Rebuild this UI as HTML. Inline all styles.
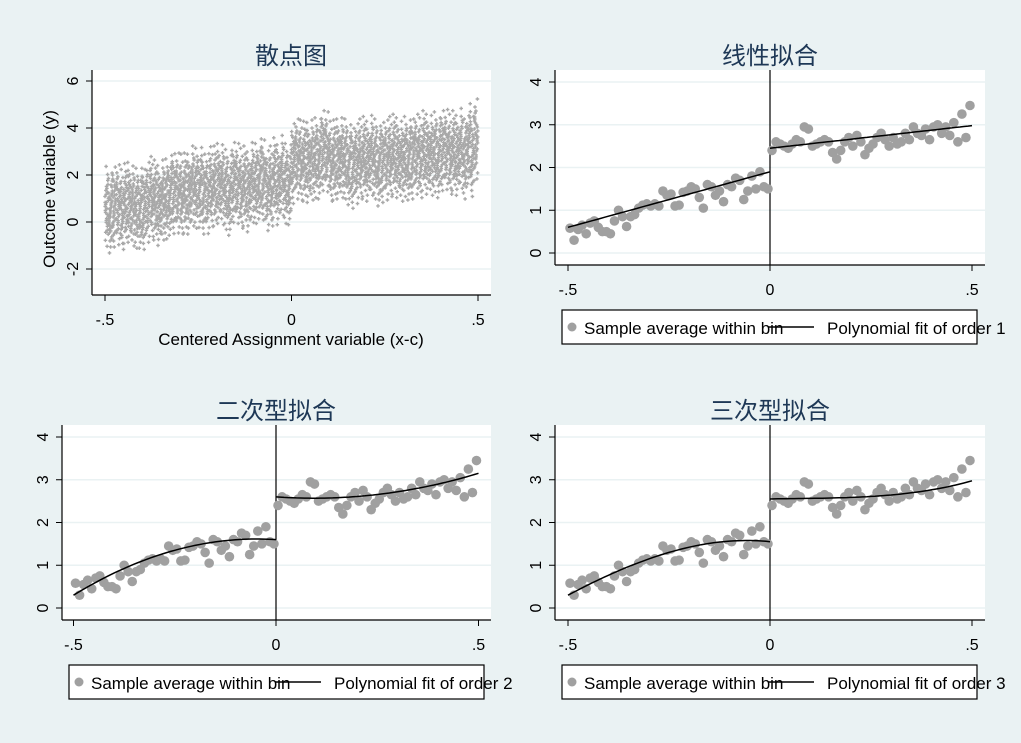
<!DOCTYPE html>
<html><head><meta charset="utf-8">
<style>
html,body{margin:0;padding:0;background:#eaf2f3;}
svg{display:block;font-family:"Liberation Sans","Noto Sans CJK SC",sans-serif;}
.title{font-family:"Liberation Sans","Noto Sans CJK SC",sans-serif;font-size:24px;fill:#1e3856;}
.tick{font-size:16px;fill:#000;}
.leg{font-size:17px;fill:#000;}
</style></head>
<body>
<svg id="chart" width="1021" height="743" viewBox="0 0 1021 743" xmlns="http://www.w3.org/2000/svg">
<rect x="0" y="0" width="1021" height="743" fill="#eaf2f3"/>
<defs>
<clipPath id="clipP3"><rect x="0" y="0" width="512" height="743"/></clipPath>
<clipPath id="clipAll"><rect x="0" y="0" width="1021" height="743"/></clipPath>
</defs>
</svg>
<script>
// ---- data ----
const leftBinMeans = [0.58,0.3,0.55,0.65,0.45,0.7,0.75,0.6,0.5,0.5,0.45,0.75,1.0,0.85,0.62,0.85,0.9,1.05,1.12,1.15,1.1,1.15,1.1,1.45,1.35,1.38,1.1,1.12,1.42,1.45,1.55,1.5,1.3,1.05,1.6,1.55,1.35,1.45,1.2,1.6,1.55,1.75,1.7,1.25,1.45,1.8,1.5,1.9,1.55,1.5];
const rightBinMeans = [2.4,2.6,2.55,2.5,2.45,2.55,2.65,2.6,2.95,2.9,2.5,2.55,2.6,2.65,2.6,2.35,2.2,2.4,2.6,2.7,2.5,2.75,2.6,2.3,2.45,2.55,2.7,2.8,2.65,2.5,2.7,2.55,2.6,2.8,2.65,2.95,2.8,2.75,2.9,2.65,2.95,3.0,2.8,2.95,2.75,3.05,2.6,3.25,2.7,3.45];
const scatterResiduals = [-1.6,1.2,0.3,-0.4,0.9,-1.1,0.1,1.7,-0.7,0.5,-0.2,1.0,-1.3,0.7,-0.9,0.2,1.4,-0.5,0.6,-1.9,0.4,-0.1,1.1,-0.8,2.1,-0.3,0.8,-1.2,0.0,1.5,-0.6,0.3];
const scatterJitter = [0.1,0.8,0.4,0.95,0.25,0.6,0.05,0.7,0.35,0.9,0.15,0.5,0.85,0.3,0.65,0.2,0.75,0.45,0.0,0.55,0.9,0.1,0.4,0.8,0.3,0.6,0.7,0.2,0.5,0.95,0.35,0.05];
const linLeft = [1.9, 2.6];      // intercept, slope
const linRight = [2.45, 1.06];
const quadLeft = [1.6, -0.6, -6.4];
const quadRight = [2.6, -0.66, 3.52];
const cubLeft = [1.55, -1.0, -9.0, -4.0];
const cubRight = [2.55, 0.2, -1.0, 4.6];
const xTickVals = [-0.5, 0, 0.5];
const xTickLabels = ["-.5", "0", ".5"];
const yTicksScatter = [-2, 0, 2, 4, 6];
const yTicksBins = [0, 1, 2, 3, 4];

const NS = "http://www.w3.org/2000/svg";
const svg = document.getElementById("chart");
function el(tag, attrs, parent, text) {
  const e = document.createElementNS(NS, tag);
  for (const k in attrs) e.setAttribute(k, attrs[k]);
  if (text !== undefined) e.textContent = text;
  (parent || svg).appendChild(e);
  return e;
}
const leftX = leftBinMeans.map((_, i) => -0.495 + 0.01 * i);
const rightX = rightBinMeans.map((_, i) => 0.005 + 0.01 * i);
function poly(c, x) { let s = 0; for (let i = c.length - 1; i >= 0; i--) s = s * x + c[i]; return s; }

function panel(cfg) {
  const g = el("g", {});
  
  
  const sx = v => cfg.x0 + cfg.xs * v;
  const sy = v => cfg.y0 - cfg.ys * v;
  const plot = el("rect", {x: cfg.L, y: cfg.T, width: cfg.R - cfg.L, height: cfg.B - cfg.T, fill: "#fff"}, g);
  
  
  cfg.yTicks.forEach(v => {
    const gl = el("line", {x1: cfg.L, x2: cfg.R, y1: sy(v), y2: sy(v), stroke: "#eaf2f3", "stroke-width": 1.5}, g);
    
    
    el("line", {x1: cfg.L - 6, x2: cfg.L, y1: sy(v), y2: sy(v), stroke: "#000"}, g);
    const t = el("text", {x: cfg.L - 14, y: sy(v), class: "tick", "text-anchor": "middle", transform: `rotate(-90 ${cfg.L - 14} ${sy(v)})`}, g, String(v));
    
    
  });
  xTickVals.forEach((v, i) => {
    el("line", {x1: sx(v), x2: sx(v), y1: cfg.B, y2: cfg.B + 6, stroke: "#000"}, g);
    const t = el("text", {x: sx(v), y: cfg.B + 30, class: "tick", "text-anchor": "middle"}, g, xTickLabels[i]);
    
    
  });
  const ya = el("line", {x1: cfg.L, x2: cfg.L, y1: cfg.T, y2: cfg.B, stroke: "#000", "stroke-width": 1.2}, g);
  
  
  const xa = el("line", {x1: cfg.L, x2: cfg.R, y1: cfg.B, y2: cfg.B, stroke: "#000", "stroke-width": 1.2}, g);
  
  
  const tt = el("text", {x: cfg.tx, y: cfg.T - 6, class: "title", "text-anchor": "middle"}, g, cfg.title);
  
  
  return {g, sx, sy};
}

// ---- Panel 1: scatter ----
(function () {
  const p = panel({name: "scatter-panel", L: 92, R: 491, T: 70, B: 295, x0: 291.5, xs: 373, y0: 222, ys: 23.5, yTicks: yTicksScatter, tx: 291, title: "散点图"});
  let d = "";
  const allMeans = leftBinMeans.concat(rightBinMeans);
  const allX = leftX.concat(rightX);
  allMeans.forEach((m, i) => {
    scatterResiduals.forEach((r, j) => {
      const rr = scatterResiduals[(j + i * 7) % scatterResiduals.length];
      const xv = allX[i] - 0.005 + 0.01 * scatterJitter[(j + i * 3) % scatterJitter.length];
      const yv = m + rr * 0.85;
      const cx = p.sx(xv), cy = p.sy(yv);
      d += `M${(cx - 1.8).toFixed(1)} ${cy.toFixed(1)}h3.6M${cx.toFixed(1)} ${(cy - 1.8).toFixed(1)}v3.6`;
    });
  });
  const pts = el("path", {d: d, stroke: "#a8a8a8", "stroke-width": 1.4, fill: "none"}, p.g);
  
  
  const xt = el("text", {x: 291, y: 345, "font-size": 17, "text-anchor": "middle"}, p.g, "Centered Assignment variable (x-c)");
  
  
  const yt = el("text", {x: 55, y: 189, "font-size": 17, "text-anchor": "middle", transform: "rotate(-90 55 189)"}, p.g, "Outcome variable (y)");
  
  
})();

// ---- binned panels ----
function binPanel(cfg, leftC, rightC, legendCfg, order) {
  const p = panel(cfg);
  const cut = el("line", {x1: p.sx(0), x2: p.sx(0), y1: cfg.T, y2: cfg.B, stroke: "#000", "stroke-width": 1.2}, p.g);
  
  
  leftBinMeans.forEach((m, i) => {
    const c = el("circle", {cx: p.sx(leftX[i]), cy: p.sy(m), r: 4.8, fill: "#a0a0a0"}, p.g);
    
    
  });
  rightBinMeans.forEach((m, i) => {
    const c = el("circle", {cx: p.sx(rightX[i]), cy: p.sy(m), r: 4.8, fill: "#a0a0a0"}, p.g);
    
    
  });
  [[leftC, -0.5, 0, 'fit-line-left'], [rightC, 0, 0.5, 'fit-line-right']].forEach(([c, a, b, nm]) => {
    let d = "";
    for (let k = 0; k <= 50; k++) {
      const x = a + (b - a) * k / 50;
      d += (k ? "L" : "M") + p.sx(x).toFixed(1) + " " + p.sy(poly(c, x)).toFixed(1);
    }
    const l = el("path", {d: d, stroke: "#000", "stroke-width": 1.5, fill: "none"}, p.g);
    
    
  });
  // legend
  const lg = el("g", {"clip-path": legendCfg.clip}, p.g);
  
  
  el("rect", {x: legendCfg.x, y: legendCfg.y, width: legendCfg.w, height: 34, fill: "#fff", stroke: "#000", "stroke-width": 1.2}, lg);
  const dot = el("circle", {cx: legendCfg.x + 10, cy: legendCfg.y + 17, r: 4.5, fill: "#a0a0a0"}, lg);
  
  
  const t1 = el("text", {x: legendCfg.x + 22, y: legendCfg.y + 24, class: "leg"}, lg, "Sample average within bin");
  
  
  const ln = el("line", {x1: legendCfg.x + 206, x2: legendCfg.x + 252, y1: legendCfg.y + 17, y2: legendCfg.y + 17, stroke: "#000", "stroke-width": 1.5}, lg);
  
  
  const t2 = el("text", {x: legendCfg.x + 265, y: legendCfg.y + 24, class: "leg"}, lg, "Polynomial fit of order " + order);
  
  
}

binPanel({name: "linear-fit-panel", L: 555, R: 985, T: 70, B: 265, x0: 770, xs: 404, y0: 253, ys: 42.75, yTicks: yTicksBins, tx: 770, title: "线性拟合"},
  linLeft, linRight, {x: 562, y: 310, w: 415, clip: "url(#clipAll)"}, 1);
binPanel({name: "quadratic-fit-panel", L: 62, R: 491, T: 425, B: 620, x0: 276, xs: 405, y0: 608, ys: 42.75, yTicks: yTicksBins, tx: 276, title: "二次型拟合"},
  quadLeft, quadRight, {x: 69, y: 665, w: 415, clip: "url(#clipP3)"}, 2);
binPanel({name: "cubic-fit-panel", L: 555, R: 985, T: 425, B: 620, x0: 770, xs: 404, y0: 608, ys: 42.75, yTicks: yTicksBins, tx: 770, title: "三次型拟合"},
  cubLeft, cubRight, {x: 562, y: 665, w: 415, clip: "url(#clipAll)"}, 3);
</script>
</body></html>
